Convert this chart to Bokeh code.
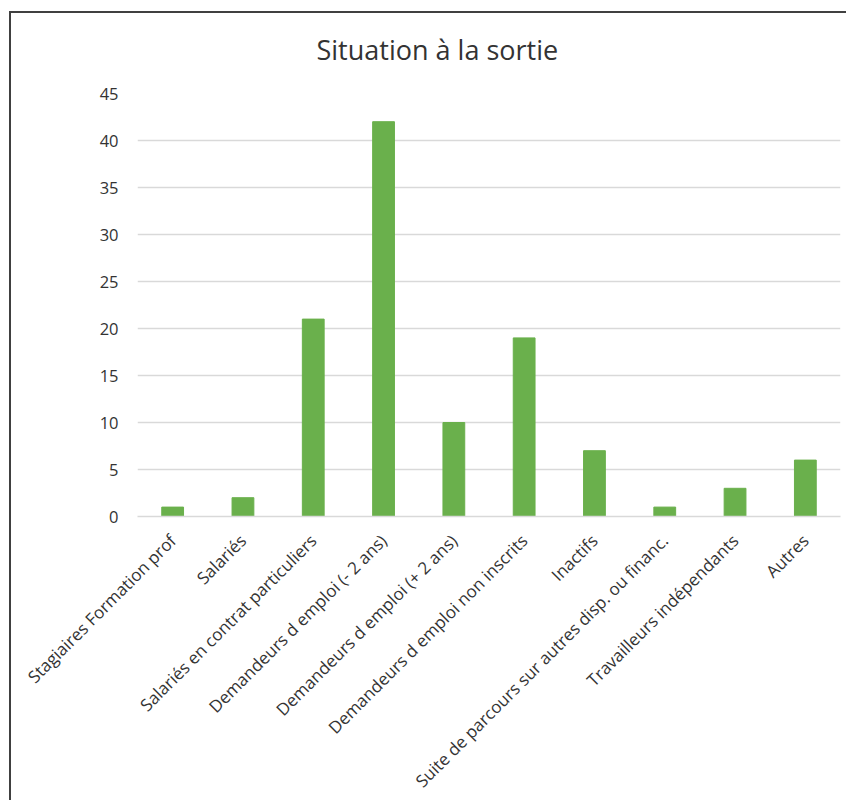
import math
from bokeh.plotting import figure
from bokeh.models import FactorRange, Range1d, FixedTicker, Title
from bokeh.embed import file_html
from bokeh.resources import INLINE

categories = [
    "Stagiaires Formation prof",
    "Salariés",
    "Salariés en contrat particuliers",
    "Demandeurs d emploi (- 2 ans)",
    "Demandeurs d emploi (+ 2 ans)",
    "Demandeurs d emploi non inscrits",
    "Inactifs",
    "Suite de parcours sur autres disp. ou financ.",
    "Travailleurs indépendants",
    "Autres",
]
values = [1, 2, 21, 42, 10, 19, 7, 1, 3, 6]
y_ticks = [0, 5, 10, 15, 20, 25, 30, 35, 40, 45]
title_text = "Situation à la sortie"

FONT = "Open Sans"
TXT = "#333333"

p = figure(
    x_range=FactorRange(*categories, range_padding=0),
    y_range=Range1d(0, 45),
    frame_width=703, frame_height=423,
    output_backend="svg", toolbar_location=None,
    min_border_left=137, min_border_right=6,
    min_border_top=93, min_border_bottom=270,
)
p.title = Title(text=title_text, align="left", offset=179, standoff=52,
                text_font=FONT, text_font_size="27px", text_font_style="normal",
                text_color=TXT)

# chart-area border drawn as inset shadows on the (transparent) plot element
p.border_fill_color = None
p.styles = {"box-shadow": "inset 9px 11px 0 0 #ffffff, inset 11px 13px 0 0 #404040",
            "background-color": "#ffffff"}

p.vbar(x=categories, top=values, width=0.31, color="#6AB04C", line_color="#6AB04C")

p.outline_line_color = None
p.xgrid.grid_line_color = None
p.ygrid.grid_line_color = "#d9d9d9"
p.ygrid.grid_line_width = 1.5

p.yaxis.ticker = FixedTicker(ticks=y_ticks)
p.yaxis.axis_line_color = None
p.yaxis.major_tick_line_color = None
p.yaxis.minor_tick_line_color = None
p.yaxis.major_tick_out = 0
p.yaxis.major_label_standoff = 19
p.yaxis.major_label_text_font = FONT
p.yaxis.major_label_text_font_size = "16.5px"
p.yaxis.major_label_text_color = TXT

p.xaxis.axis_line_color = "#d9d9d9"
p.xaxis.axis_line_width = 1.5
p.xaxis.major_tick_line_color = None
p.xaxis.major_tick_out = 0
p.xaxis.major_label_orientation = math.pi / 4
p.xaxis.major_label_standoff = 21
p.xaxis.major_label_text_font = FONT
p.xaxis.major_label_text_font_size = "17px"
p.xaxis.major_label_text_color = TXT

open("out.html", "w").write(file_html(p, INLINE))
